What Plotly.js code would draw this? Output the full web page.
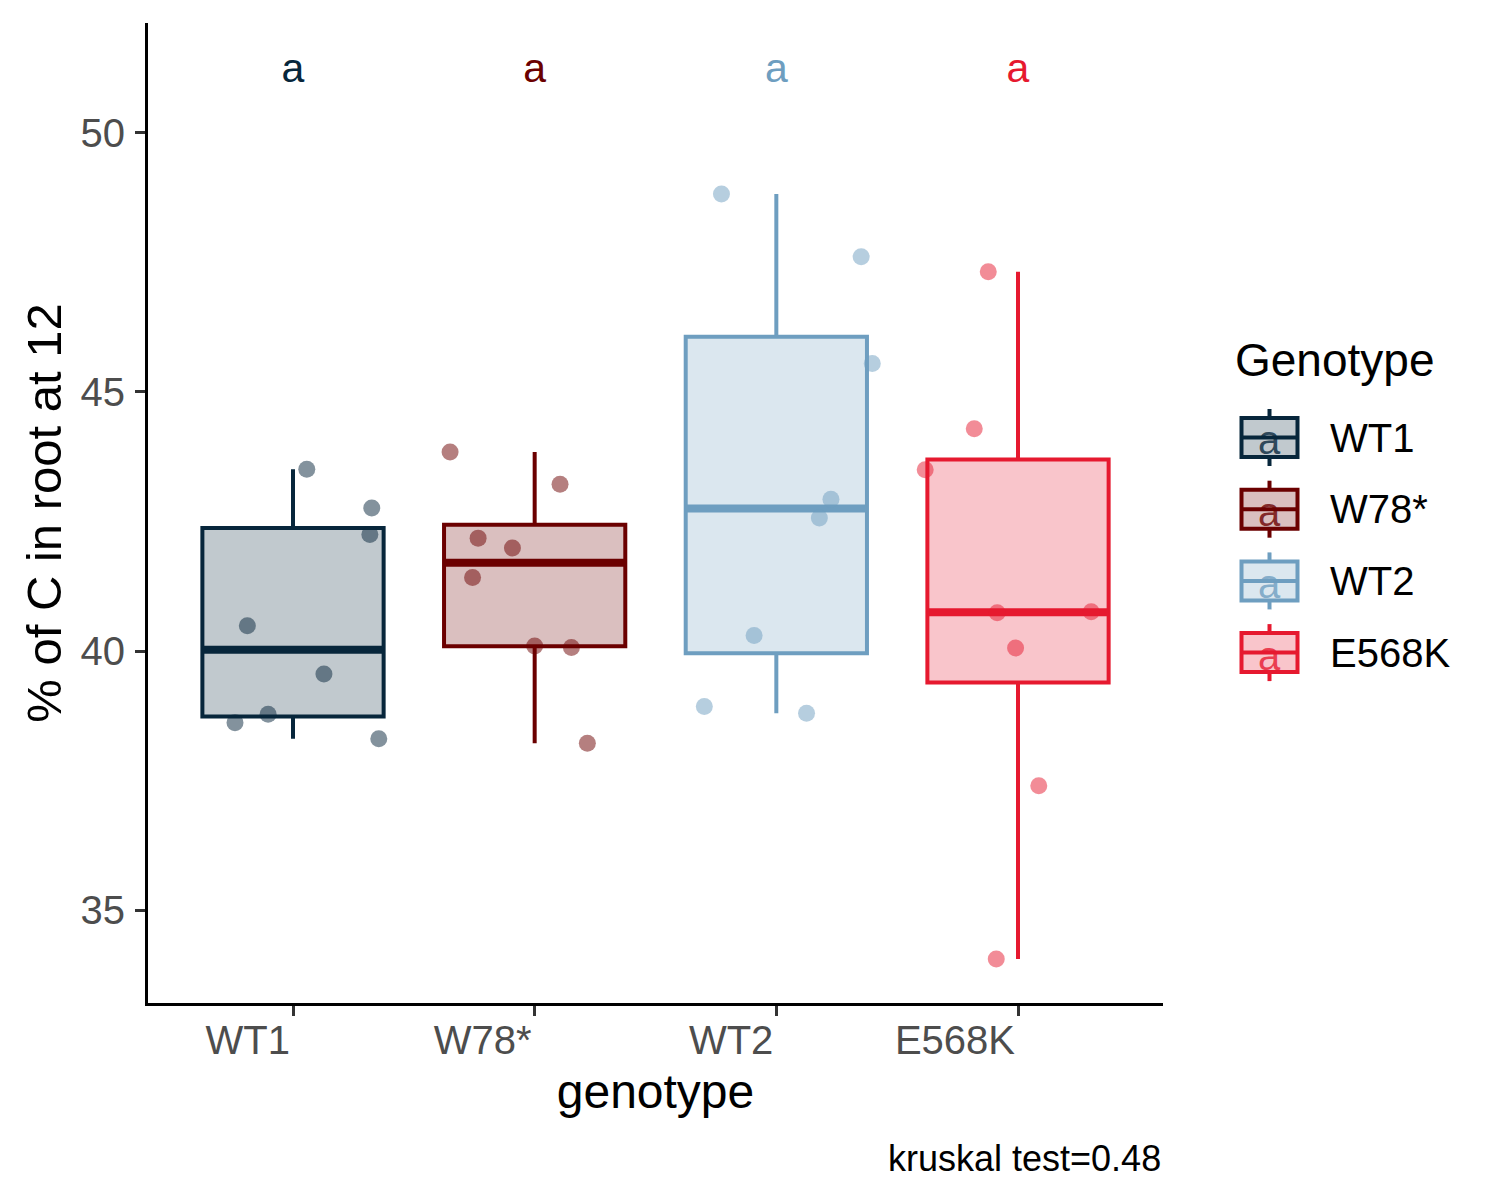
<!DOCTYPE html>
<html>
<head>
<meta charset="utf-8">
<script src="https://cdn.plot.ly/plotly-3.0.1.min.js"></script>
<style>
  body { margin: 0; background: #fff; }
  #chart { width: 1500px; height: 1200px; }
</style>
</head>
<body>
<div id="chart"></div>
<script>
// genotypes and colours
const genotypes = ["WT1", "W78*", "WT2", "E568K"];
const colours = ["#07263B", "#6B0000", "#6E9EC0", "#E6192F"];

// % of C in root at 12, per plant, with the horizontal jitter
const wt1 = [43.51, 42.76, 42.25, 40.49, 39.56, 38.78, 38.62, 38.31];
const wt1Jitter = [0.057, 0.326, 0.318, -0.189, 0.128, -0.103, -0.240, 0.355];
const w78 = [43.84, 43.22, 42.18, 41.99, 41.42, 40.10, 40.07, 38.22];
const w78Jitter = [-0.350, 0.105, -0.234, -0.092, -0.257, 0.000, 0.152, 0.218];
const wt2 = [48.82, 47.61, 45.55, 42.93, 42.57, 40.30, 38.93, 38.80];
const wt2Jitter = [-0.227, 0.351, 0.397, 0.226, 0.178, -0.092, -0.298, 0.125];
const e568k = [47.32, 44.29, 43.50, 40.74, 40.76, 40.06, 37.40, 34.06];
const e568kJitter = [-0.123, -0.181, -0.384, -0.086, 0.303, -0.010, 0.086, -0.090];

// significance letters and test result
const letters = ["a", "a", "a", "a"];
const letterY = 51.17;
const testLabel = "kruskal test=0.48";

const yTicks = [35, 40, 45, 50];

const groups = [wt1, w78, wt2, e568k];
const jitters = [wt1Jitter, w78Jitter, wt2Jitter, e568kJitter];
const FONT = "Liberation Sans, Arial, sans-serif";

// quantile like R's type 7
function quantile(arr, p) {
  const s = [...arr].sort((a, b) => a - b);
  const h = (s.length - 1) * p;
  const lo = Math.floor(h);
  const hi = Math.min(lo + 1, s.length - 1);
  return s[lo] + (h - lo) * (s[hi] - s[lo]);
}

function rgba(hex, a) {
  const n = parseInt(hex.slice(1), 16);
  return "rgba(" + (n >> 16) + "," + ((n >> 8) & 255) + "," + (n & 255) + "," + a + ")";
}

const boxWidth = 0.75;
const boxTraces = [];
const medianTraces = [];
const pointTraces = [];

groups.forEach((vals, i) => {
  const q1 = quantile(vals, 0.25);
  const med = quantile(vals, 0.5);
  const q3 = quantile(vals, 0.75);
  const iqr = q3 - q1;
  const lf = Math.min(...vals.filter(v => v >= q1 - 1.5 * iqr));
  const uf = Math.max(...vals.filter(v => v <= q3 + 1.5 * iqr));

  boxTraces.push({
    type: "box",
    x: [i],
    q1: [q1], median: [med], q3: [q3],
    lowerfence: [lf], upperfence: [uf],
    width: boxWidth,
    whiskerwidth: 0,
    fillcolor: rgba(colours[i], 0.25),
    line: { color: colours[i], width: 4 },
    hoverinfo: "skip"
  });

  // ggplot draws the median thicker than the box outline
  medianTraces.push({
    type: "scatter",
    mode: "lines",
    x: [i - boxWidth / 2, i + boxWidth / 2],
    y: [med, med],
    line: { color: colours[i], width: 8 },
    hoverinfo: "skip"
  });

  pointTraces.push({
    type: "scatter",
    mode: "markers",
    x: vals.map((v, k) => i + jitters[i][k]),
    y: vals,
    marker: { color: colours[i], size: 17, opacity: 0.5, line: { width: 0 } },
    hoverinfo: "skip"
  });
});

const letterTrace = {
  type: "scatter",
  mode: "text",
  x: genotypes.map((g, i) => i),
  y: genotypes.map(() => letterY),
  text: letters,
  textposition: "middle center",
  textfont: { family: FONT, size: 41, color: colours },
  hoverinfo: "skip"
};

// plot area in pixels: x 148..1163, y 23..1003
const L = 148, R = 1163, T = 23, B = 1003;
const px = x => (x - L) / (R - L);
const py = y => (B - y) / (B - T);

// hand-built legend in the ggplot style
const shapes = [];
const annotations = [];
genotypes.forEach((g, i) => {
  const cy = 437.5 + i * 71.7;
  const cx = 1269.5;
  const line = { color: colours[i], width: 4 };
  shapes.push({ type: "line", xref: "paper", yref: "paper", x0: px(cx), x1: px(cx), y0: py(cy - 28.5), y1: py(cy - 19.5), line: line });
  shapes.push({ type: "line", xref: "paper", yref: "paper", x0: px(cx), x1: px(cx), y0: py(cy + 19.5), y1: py(cy + 28.5), line: line });
  shapes.push({ type: "rect", xref: "paper", yref: "paper", x0: px(1241.5), x1: px(1297.5), y0: py(cy - 19.5), y1: py(cy + 19.5), fillcolor: rgba(colours[i], 0.25), line: line });
  shapes.push({ type: "line", xref: "paper", yref: "paper", x0: px(1241.5), x1: px(1297.5), y0: py(cy), y1: py(cy), line: line });
  annotations.push({ xref: "paper", yref: "paper", x: px(cx), y: py(cy + 3), text: letters[i], showarrow: false, xanchor: "center", yanchor: "middle", font: { family: FONT, size: 40, color: rgba(colours[i], 0.8) } });
  annotations.push({ xref: "paper", yref: "paper", x: px(1328), y: py(cy), text: g, showarrow: false, xanchor: "left", yanchor: "middle", font: { family: FONT, size: 40, color: "#000" } });
});
annotations.push({ xref: "paper", yref: "paper", x: px(1233), y: py(360), text: "Genotype", showarrow: false, xanchor: "left", yanchor: "middle", font: { family: FONT, size: 46, color: "#000" } });
annotations.push({ xref: "paper", yref: "paper", x: 1, y: py(1158), text: testLabel, showarrow: false, xanchor: "right", yanchor: "middle", font: { family: FONT, size: 36, color: "#000" } });

const layout = {
  width: 1500,
  height: 1200,
  margin: { l: L, r: 1500 - R, t: T, b: 1200 - B },
  paper_bgcolor: "white",
  plot_bgcolor: "white",
  showlegend: false,
  font: { family: FONT },
  xaxis: {
    range: [-0.6, 3.6],
    tickvals: genotypes.map((g, i) => i),
    ticktext: genotypes,
    ticklabelposition: "outside left",
    showgrid: false, zeroline: false,
    showline: true, linecolor: "#000", linewidth: 3,
    ticks: "outside", ticklen: 10, tickwidth: 3, tickcolor: "#333",
    tickfont: { size: 40, color: "#4D4D4D" },
    title: { text: "genotype", font: { size: 48, color: "#000" }, standoff: 14 }
  },
  yaxis: {
    range: [33.21, 52.12],
    tickvals: yTicks,
    showgrid: false, zeroline: false,
    showline: true, linecolor: "#000", linewidth: 3,
    ticks: "outside", ticklen: 10, tickwidth: 3, tickcolor: "#333",
    ticklabelstandoff: 2,
    tickfont: { size: 40, color: "#4D4D4D" },
    title: { text: "% of C in root at 12", font: { size: 49, color: "#000" }, standoff: 4 }
  },
  shapes: shapes,
  annotations: annotations
};

Plotly.newPlot("chart", [...boxTraces, ...medianTraces, ...pointTraces, letterTrace], layout, { staticPlot: true });
</script>
</body>
</html>
